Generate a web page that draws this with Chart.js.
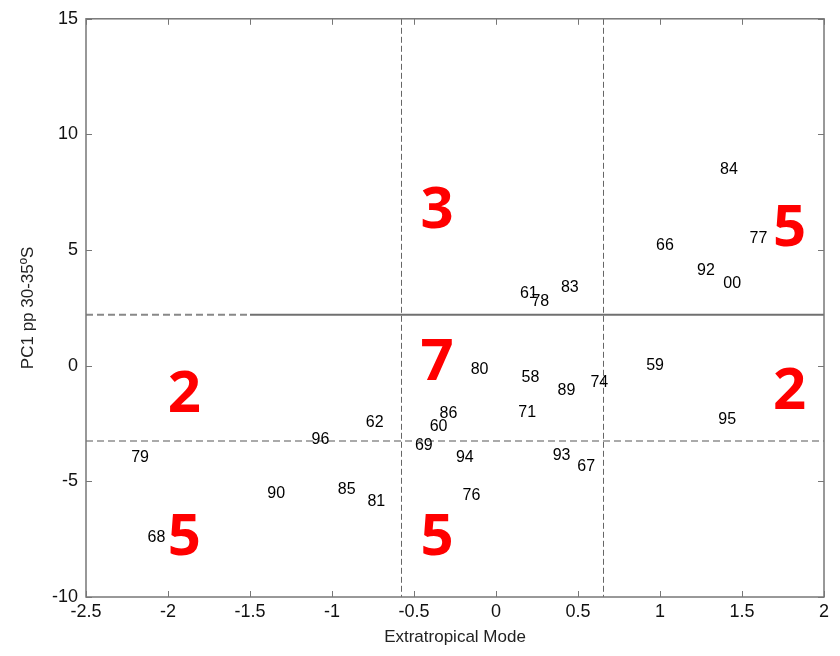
<!DOCTYPE html>
<html>
<head>
<meta charset="utf-8">
<title>PC1 pp vs Extratropical Mode</title>
<script src="https://cdn.jsdelivr.net/npm/chart.js@4"></script>
<style>
  html, body { margin: 0; padding: 0; background: #fff; }
  #wrap { width: 840px; height: 656px; }
</style>
</head>
<body>
<div id="wrap"><canvas id="scatter"></canvas></div>
<script>
// data: year label, x (Extratropical Mode), y (PC1)
const years = ['84', '66', '77', '92', '00', '61', '78', '83', '80', '58', '89', '74', '59', '95',
               '86', '71', '62', '60', '96', '69', '79', '94', '93', '67', '90', '85', '81', '76', '68'];
const xVals = [1.42, 1.03, 1.60, 1.28, 1.44, 0.20, 0.27, 0.45, -0.10, 0.21, 0.43, 0.63, 0.97, 1.41,
               -0.29, 0.19, -0.74, -0.35, -1.07, -0.44, -2.17, -0.19, 0.40, 0.55, -1.34, -0.91, -0.73, -0.15, -2.07];
const yVals = [8.47, 5.21, 5.51, 4.13, 3.53, 3.14, 2.76, 3.36, -0.16, -0.50, -1.07, -0.72, 0.00, -2.35,
               -2.05, -2.01, -2.48, -2.65, -3.21, -3.47, -3.99, -3.99, -3.90, -4.37, -5.53, -5.36, -5.88, -5.62, -7.42];

// red counts per region
const countText = ['3', '5', '7', '2', '2', '5', '5'];
const countX = [-0.36, 1.79, -0.36, -1.90, 1.79, -1.90, -0.36];
const countY = [6.67, 5.90, 0.09, -1.30, -1.15, -7.47, -7.47];

// threshold lines
const vLineX = [-0.58, 0.65];
const hLineY = [2.2, -3.25];
const hSolidFrom = -1.5;

const xTicks = [-2.5, -2, -1.5, -1, -0.5, 0, 0.5, 1, 1.5, 2];
const yTicks = [-10, -5, 0, 5, 10, 15];

const yearLabels = {
  id: 'yearLabels',
  afterDatasetsDraw(chart) {
    const ctx = chart.ctx;
    ctx.save();
    ctx.textAlign = 'center';
    ctx.textBaseline = 'middle';
    const meta0 = chart.getDatasetMeta(0);
    ctx.font = '16px "Liberation Sans", Arial, sans-serif';
    ctx.fillStyle = '#000';
    meta0.data.forEach((pt, i) => ctx.fillText(years[i], pt.x, pt.y));
    const meta1 = chart.getDatasetMeta(1);
    ctx.font = 'bold 58px "Open Sans", sans-serif';
    ctx.fillStyle = '#ff0000';
    meta1.data.forEach((pt, i) => ctx.fillText(countText[i], pt.x, pt.y));
    ctx.restore();
  }
};

const frameAndLines = {
  id: 'frameAndLines',
  beforeDatasetsDraw(chart) {
    const ctx = chart.ctx;
    const a = chart.chartArea;
    const xs = chart.scales.x, ys = chart.scales.y;
    ctx.save();
    // vertical dashed lines
    ctx.strokeStyle = '#666';
    ctx.lineWidth = 1;
    ctx.setLineDash([6, 3]);
    vLineX.forEach(v => {
      const px = Math.round(xs.getPixelForValue(v)) + 0.5;
      ctx.beginPath(); ctx.moveTo(px, a.top); ctx.lineTo(px, a.bottom); ctx.stroke();
    });
    // upper line: dashed then solid
    let py = ys.getPixelForValue(hLineY[0]);
    const split = xs.getPixelForValue(hSolidFrom);
    ctx.strokeStyle = '#888';
    ctx.lineWidth = 2;
    ctx.setLineDash([7, 4]);
    ctx.beginPath(); ctx.moveTo(a.left, py); ctx.lineTo(split, py); ctx.stroke();
    ctx.setLineDash([]);
    ctx.strokeStyle = '#707070';
    ctx.beginPath(); ctx.moveTo(split, py); ctx.lineTo(a.right, py); ctx.stroke();
    // lower dashed line
    py = ys.getPixelForValue(hLineY[1]);
    ctx.strokeStyle = '#aaa';
    ctx.setLineDash([7, 4]);
    ctx.beginPath(); ctx.moveTo(a.left, py); ctx.lineTo(a.right, py); ctx.stroke();
    ctx.restore();
  },
  afterDraw(chart) {
    const ctx = chart.ctx;
    const a = chart.chartArea;
    const xs = chart.scales.x, ys = chart.scales.y;
    ctx.save();
    ctx.strokeStyle = '#777';
    ctx.lineWidth = 1.5;
    ctx.strokeRect(a.left, a.top, a.right - a.left, a.bottom - a.top);
    // inward ticks on all four sides
    ctx.lineWidth = 1;
    const len = 6;
    ctx.beginPath();
    xTicks.forEach(v => {
      const px = Math.round(xs.getPixelForValue(v)) + 0.5;
      ctx.moveTo(px, a.bottom); ctx.lineTo(px, a.bottom - len);
      ctx.moveTo(px, a.top); ctx.lineTo(px, a.top + len);
    });
    yTicks.forEach(v => {
      const p = Math.round(ys.getPixelForValue(v)) + 0.5;
      ctx.moveTo(a.left, p); ctx.lineTo(a.left + len, p);
      ctx.moveTo(a.right, p); ctx.lineTo(a.right - len, p);
    });
    ctx.stroke();
    ctx.restore();
  }
};

const pts = xVals.map((x, i) => ({ x: x, y: yVals[i] }));
const countPts = countX.map((x, i) => ({ x: x, y: countY[i] }));

new Chart(document.getElementById('scatter'), {
  type: 'scatter',
  data: {
    datasets: [
      { label: 'years', data: pts, pointRadius: 0, pointHoverRadius: 0 },
      { label: 'counts', data: countPts, pointRadius: 0, pointHoverRadius: 0 }
    ]
  },
  options: {
    responsive: true,
    maintainAspectRatio: false,
    animation: false,
    layout: { padding: { top: 15, right: 16, left: 0, bottom: 0 } },
    plugins: { legend: { display: false }, tooltip: { enabled: false } },
    scales: {
      x: {
        type: 'linear',
        min: -2.5, max: 2,
        afterBuildTicks: s => { s.ticks = xTicks.map(v => ({ value: v })); },
        afterFit: s => { s.height = 59; },
        grid: { display: false, drawTicks: false },
        border: { display: false },
        ticks: {
          padding: 4,
          color: '#111',
          font: { family: '"Liberation Sans", Arial, sans-serif', size: 18 },
          callback: v => String(v)
        },
        title: {
          display: true,
          text: 'Extratropical Mode',
          color: '#222',
          padding: { top: 0, bottom: 8 },
          font: { family: '"Liberation Sans", Arial, sans-serif', size: 17 }
        }
      },
      y: {
        type: 'linear',
        min: -10, max: 15,
        afterBuildTicks: s => { s.ticks = yTicks.map(v => ({ value: v })); },
        afterFit: s => { s.width = 86; },
        grid: { display: false, drawTicks: false },
        border: { display: false },
        ticks: {
          padding: 8,
          color: '#111',
          font: { family: '"Liberation Sans", Arial, sans-serif', size: 18 },
          callback: v => String(v)
        },
        title: {
          display: true,
          text: 'PC1 pp 30-35\u00baS',
          color: '#222',
          padding: { top: 18, bottom: 0 },
          font: { family: '"Liberation Sans", Arial, sans-serif', size: 17 }
        }
      }
    }
  },
  plugins: [frameAndLines, yearLabels]
});
</script>
</body>
</html>
